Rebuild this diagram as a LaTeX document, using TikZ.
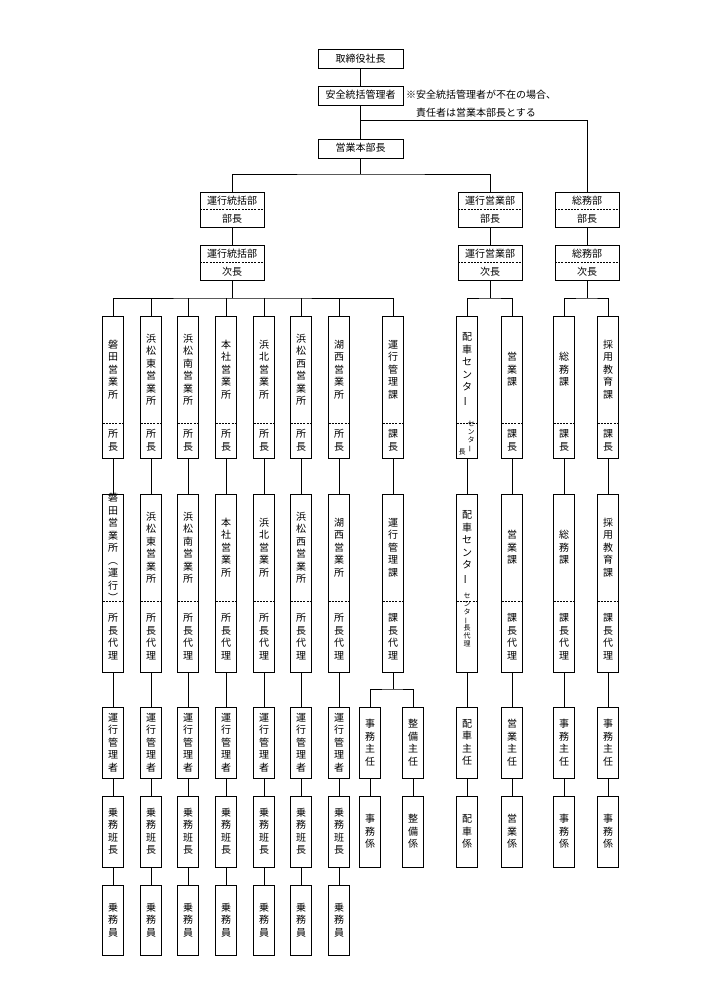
\documentclass[tikz,border=0pt]{standalone}
\usepackage{fontspec}
\usepackage{graphicx}
\setmainfont{Noto Sans CJK JP}
\newcommand\vbar{\rotatebox[origin=c]{90}{ー}}
\tikzset{
 box/.style={draw, line width=0.9pt, minimum width=21pt, inner sep=0, anchor=north},
 hbox/.style={draw, line width=0.9pt, inner sep=0, anchor=north},
 vt/.style={align=center, inner sep=0, font=\fontsize{10}{12.5}\selectfont},
 ht/.style={inner sep=0, font=\fontsize{10}{12}\selectfont},
 sm/.style={align=center, inner sep=0, font=\fontsize{7}{8}\selectfont},
 dsh/.style={line width=0.8pt, dash pattern=on 2pt off 1.2pt},
 ln/.style={line width=0.9pt}
}
\newcommand\colA[7]{%
 \node[box, minimum height={#5-#3}] (#1) at (#2,#3) {};
 \draw[dsh] (#2-10.5,#4) -- (#2+10.5,#4);
 \node[vt] (#1t) at (#2,{(#3+#4)/2}) {#6};
 \node[vt] (#1b) at (#2,{(#4+#5)/2}) {#7};}
\newcommand\colB[5]{%
 \node[box, minimum height={#4-#3}] (#1) at (#2,#3) {};
 \node[vt] (#1t) at (#2,{(#3+#4)/2}) {#5};}
\newcommand\dept[5]{%
 \node[hbox, minimum width=64pt, minimum height={#5-#3}] (#1) at (#2,#3) {};
 \draw[dsh] (#2-32,#4) -- (#2+32,#4);}
\begin{document}
\begin{tikzpicture}[x=1pt,y=-1pt]
\useasboundingbox (0,0) rectangle (711,1006);
% top
\node[hbox, minimum width=85pt, minimum height=19pt] (ceo) at (360.5,49) {};
\node[ht] (ceot) at (360.5,58.5) {取締役社長};
\node[hbox, minimum width=85pt, minimum height=19pt] (anzen) at (360.5,86) {};
\node[ht] (anzent) at (360.5,95) {安全統括管理者};
\node[ht, anchor=west] (note1) at (406,95) {※安全統括管理者が不在の場合、};
\node[ht, anchor=west] (note2) at (416,113) {責任者は営業本部長とする};
\node[hbox, minimum width=85pt, minimum height=19pt] (honbu) at (360.5,139) {};
\node[ht] (honbut) at (360.5,148) {営業本部長};
\draw[ln] (ceo.south) -- (anzen.north);
\draw[ln] (anzen.south) -- (honbu.north);
\coordinate (br1) at (587,120);
% departments
\dept{d1}{232}{192}{209.5}{227}
\node[ht] (d1t) at (232,200.5) {運行統括部}; \node[ht] (d1b) at (232,218.5) {部長};
\dept{d2}{490}{192}{209.5}{227}
\node[ht] (d2t) at (490,200.5) {運行営業部}; \node[ht] (d2b) at (490,218.5) {部長};
\dept{d3}{587}{192}{209.5}{227}
\node[ht] (d3t) at (587,200.5) {総務部}; \node[ht] (d3b) at (587,218.5) {部長};
\dept{e1}{232}{245}{262.5}{280}
\node[ht] (e1t) at (232,253.5) {運行統括部}; \node[ht] (e1b) at (232,271.5) {次長};
\dept{e2}{490}{245}{262.5}{280}
\node[ht] (e2t) at (490,253.5) {運行営業部}; \node[ht] (e2b) at (490,271.5) {次長};
\dept{e3}{587}{245}{262.5}{280}
\node[ht] (e3t) at (587,253.5) {総務部}; \node[ht] (e3b) at (587,271.5) {次長};
\draw[ln] (anzen.south |- br1) -- (br1) -- (d3.north);
\coordinate (br2) at (360.5,174);
\draw[ln] (honbu.south) -- (br2);
\draw[ln] (d1.north) |- (br2) -| (d2.north);
\draw[ln] (d1.south) -- (e1.north);
\draw[ln] (d2.south) -- (e2.north);
\draw[ln] (d3.south) -- (e3.north);
% row 1
\colA{a1}{113}{316}{423}{458}{磐\\田\\営\\業\\所}{所\\長}
\colA{a2}{151}{316}{423}{458}{浜\\松\\東\\営\\業\\所}{所\\長}
\colA{a3}{188}{316}{423}{458}{浜\\松\\南\\営\\業\\所}{所\\長}
\colA{a4}{226}{316}{423}{458}{本\\社\\営\\業\\所}{所\\長}
\colA{a5}{264}{316}{423}{458}{浜\\北\\営\\業\\所}{所\\長}
\colA{a6}{301}{316}{423}{458}{浜\\松\\西\\営\\業\\所}{所\\長}
\colA{a7}{339}{316}{423}{458}{湖\\西\\営\\業\\所}{所\\長}
\colA{a8}{393}{316}{423}{458}{運\\行\\管\\理\\課}{課\\長}
\colA{a9}{467}{316}{423}{458}{配\\車\\セ\\ン\\タ\\\vbar}{}
\node[sm] (a9s) at (471,437) {セ\\ン\\タ\\\vbar};
\node[sm] (a9l) at (462,452) {長};
\colA{a10}{512}{316}{423}{458}{営\\業\\課}{課\\長}
\colA{a11}{564}{316}{423}{458}{総\\務\\課}{課\\長}
\colA{a12}{608}{316}{423}{458}{採\\用\\教\\育\\課}{課\\長}
% row 2
\colA{b1}{113}{494}{601}{672}{磐\\田\\営\\業\\所\\︵\\運\\行\\︶}{所\\長\\代\\理}
\colA{b2}{151}{494}{601}{672}{浜\\松\\東\\営\\業\\所}{所\\長\\代\\理}
\colA{b3}{188}{494}{601}{672}{浜\\松\\南\\営\\業\\所}{所\\長\\代\\理}
\colA{b4}{226}{494}{601}{672}{本\\社\\営\\業\\所}{所\\長\\代\\理}
\colA{b5}{264}{494}{601}{672}{浜\\北\\営\\業\\所}{所\\長\\代\\理}
\colA{b6}{301}{494}{601}{672}{浜\\松\\西\\営\\業\\所}{所\\長\\代\\理}
\colA{b7}{339}{494}{601}{672}{湖\\西\\営\\業\\所}{所\\長\\代\\理}
\colA{b8}{393}{494}{601}{672}{運\\行\\管\\理\\課}{課\\長\\代\\理}
\colA{b9}{467}{494}{601}{672}{配\\車\\セ\\ン\\タ\\\vbar}{}
\node[sm] (b9s) at (467,620) {セ\\ン\\タ\\\vbar\\長\\代\\理};
\colA{b10}{512}{494}{601}{672}{営\\業\\課}{課\\長\\代\\理}
\colA{b11}{564}{494}{601}{672}{総\\務\\課}{課\\長\\代\\理}
\colA{b12}{608}{494}{601}{672}{採\\用\\教\\育\\課}{課\\長\\代\\理}
% rows 3-5
\foreach \i/\x in {1/113,2/151,3/188,4/226,5/264,6/301,7/339}{
 \colB{c\i}{\x}{707}{778}{運\\行\\管\\理\\者}
 \colB{f\i}{\x}{796}{867}{乗\\務\\班\\長}
 \colB{g\i}{\x}{885}{955}{乗\\務\\員}
 \draw[ln] (a\i.south) -- (b\i.north);
 \draw[ln] (b\i.south) -- (c\i.north);
 \draw[ln] (c\i.south) -- (f\i.north);
 \draw[ln] (f\i.south) -- (g\i.north);
}
\colB{c8}{370}{707}{778}{事\\務\\主\\任}
\colB{c9}{413}{707}{778}{整\\備\\主\\任}
\colB{c10}{467}{707}{778}{配\\車\\主\\任}
\colB{c11}{512}{707}{778}{営\\業\\主\\任}
\colB{c12}{564}{707}{778}{事\\務\\主\\任}
\colB{c13}{608}{707}{778}{事\\務\\主\\任}
\colB{f8}{370}{796}{867}{事\\務\\係}
\colB{f9}{413}{796}{867}{整\\備\\係}
\colB{f10}{467}{796}{867}{配\\車\\係}
\colB{f11}{512}{796}{867}{営\\業\\係}
\colB{f12}{564}{796}{867}{事\\務\\係}
\colB{f13}{608}{796}{867}{事\\務\\係}
% connectors
\coordinate (k1) at (232,298);
\draw[ln] (e1.south) -- (k1);
\draw[ln] (a1.north) |- (k1) -| (a8.north);
\foreach \i in {2,...,7}{\draw[ln] (a\i.north) -- (a\i.north |- k1);}
\coordinate (k2) at (490,298);
\draw[ln] (e2.south) -- (k2);
\draw[ln] (a9.north) |- (k2) -| (a10.north);
\coordinate (k3) at (587,298);
\draw[ln] (e3.south) -- (k3);
\draw[ln] (a11.north) |- (k3) -| (a12.north);
\foreach \i in {8,9,10,11,12}{\draw[ln] (a\i.south) -- (b\i.north);}
\coordinate (k4) at (393,689);
\draw[ln] (b8.south) -- (k4);
\draw[ln] (c8.north) |- (k4) -| (c9.north);
\draw[ln] (b9.south) -- (c10.north);
\draw[ln] (b10.south) -- (c11.north);
\draw[ln] (b11.south) -- (c12.north);
\draw[ln] (b12.south) -- (c13.north);
\foreach \i in {8,...,13}{\draw[ln] (c\i.south) -- (f\i.north);}
\end{tikzpicture}
\end{document}
